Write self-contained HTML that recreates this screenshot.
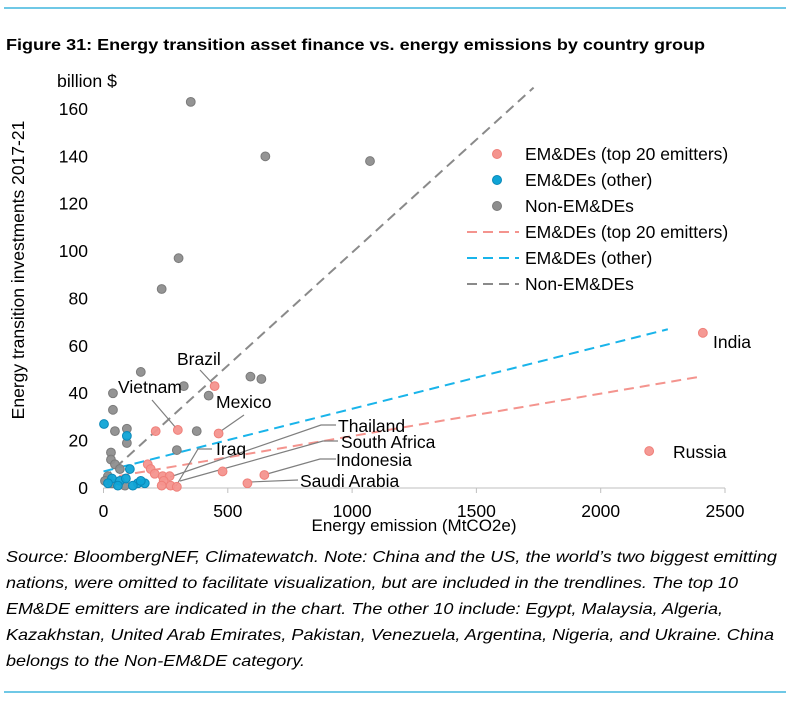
<!DOCTYPE html>
<html><head><meta charset="utf-8"><style>
body{margin:0;background:#fff;width:800px;height:708px;overflow:hidden}
svg{display:block;font-family:"Liberation Sans",sans-serif}
</style></head><body>
<svg width="800" height="708" viewBox="0 0 800 708">
<line x1="4" y1="8" x2="786" y2="8" stroke="#19a7d8" stroke-width="1.2"/>
<text x="6" y="50" font-size="16" font-weight="bold" textLength="699" lengthAdjust="spacingAndGlyphs">Figure 31: Energy transition asset finance vs. energy emissions by country group</text>
<text x="57" y="87" font-size="17.5" textLength="60" lengthAdjust="spacingAndGlyphs">billion  $</text>
<text transform="translate(24,270) rotate(-90)" text-anchor="middle" font-size="17.5">Energy transition investments 2017-21</text>
<text x="414" y="531" text-anchor="middle" font-size="17">Energy emission (MtCO2e)</text>
<g id="axes"></g>
<g id="lines"></g>
<g id="annots" stroke="#7f7f7f" stroke-width="1.2" fill="none"></g>
<g id="points"></g>
<g id="labels" font-size="17.5"></g>
<g id="legend" font-size="17.5">
<circle cx="497" cy="154" r="4.5" fill="#f4948e" stroke="#ef7f79"/>
<text x="525" y="160">EM&amp;DEs (top 20 emitters)</text>
<circle cx="497" cy="180" r="4.5" fill="#0fa4d6" stroke="#0a88b8"/>
<text x="525" y="186">EM&amp;DEs (other)</text>
<circle cx="497" cy="206" r="4.5" fill="#8e8e8e" stroke="#7a7a7a"/>
<text x="525" y="212">Non-EM&amp;DEs</text>
<line x1="467" y1="232" x2="519" y2="232" stroke="#f4948e" stroke-width="2" stroke-dasharray="10 6"/>
<text x="525" y="238">EM&amp;DEs (top 20 emitters)</text>
<line x1="467" y1="258" x2="519" y2="258" stroke="#19b4ea" stroke-width="2" stroke-dasharray="10 6"/>
<text x="525" y="264">EM&amp;DEs (other)</text>
<line x1="467" y1="284" x2="519" y2="284" stroke="#8a8a8a" stroke-width="2" stroke-dasharray="10 6"/>
<text x="525" y="290">Non-EM&amp;DEs</text>
</g>
<g font-size="16" font-style="italic">
<text x="6" y="562" textLength="771" lengthAdjust="spacingAndGlyphs">Source: BloombergNEF, Climatewatch. Note: China and the US, the world’s two biggest emitting</text>
<text x="6" y="588" textLength="732" lengthAdjust="spacingAndGlyphs">nations, were omitted to facilitate visualization, but are included in the trendlines. The top 10</text>
<text x="6" y="614" textLength="717" lengthAdjust="spacingAndGlyphs">EM&amp;DE emitters are indicated in the chart. The other 10 include: Egypt, Malaysia, Algeria,</text>
<text x="6" y="640" textLength="768" lengthAdjust="spacingAndGlyphs">Kazakhstan, United Arab Emirates, Pakistan, Venezuela, Argentina, Nigeria, and Ukraine. China</text>
<text x="6" y="666" textLength="299" lengthAdjust="spacingAndGlyphs">belongs to the Non-EM&amp;DE category.</text>
</g>
<line x1="4" y1="692" x2="786" y2="692" stroke="#19a7d8" stroke-width="1.2"/>
</svg>
<script>
const xTicks=[0,500,1000,1500,2000,2500];
const yTicks=[0,20,40,60,80,100,120,140,160];
const grayX=[351,651,1072,302,234,150,323,423,591,635,38,38,46,94,94,295,375,30,30,46,66,18,6,34,86];
const grayY=[163,140,138,97,84,49,43,39,47,46,40,33,24,25,19,16,24,15,12,10,8,5,3,2,1];
const blueX=[2,94,106,34,66,138,58,18,166,118,150,90];
const blueY=[27,22,8,4,3,2,1,2,2,1,3,4];
const redX=[2411,2195,447,299,463,210,178,190,206,238,266,242,270,295,234,647,579,479];
const redY=[65.5,15.6,43,24.5,23,24,10,8,6,5,5,3,1,0.5,1,5.5,2,7];
const trendNames=['trend-non','trend-other','trend-top20'];
const trendX0=[0,0,0];
const trendY0=[4,7,4];
const trendX1=[1730,2270,2400];
const trendY1=[169,67,47];
const x=v=>103.5+v*0.2486;
const y=v=>488-v*2.369;
const NS='http://www.w3.org/2000/svg';
function mk(tag,parent,attrs){const e=document.createElementNS(NS,tag);for(const k in attrs)e.setAttribute(k,attrs[k]);document.getElementById(parent).appendChild(e);return e;}
let a=mk('line','axes',{x1:x(0),y1:y(0),x2:x(2500),y2:y(0),stroke:'#bfbfbf','stroke-width':1});


xTicks.forEach(t=>{
 const l=mk('line','axes',{x1:x(t),y1:y(0),x2:x(t),y2:y(0)+5,stroke:'#bfbfbf'});
 
 
 const tx=mk('text','axes',{x:x(t),y:517,'text-anchor':'middle','font-size':17.5});
 tx.textContent=t;
 
 
});
yTicks.forEach(t=>{
 const tx=mk('text','axes',{x:88,y:y(t)+6,'text-anchor':'end','font-size':17.5});
 tx.textContent=t;
 
 
});
const tcol=['#8a8a8a','#19b4ea','#f4948e'];
trendX0.forEach((v,i)=>{
 const l=mk('line','lines',{x1:x(v),y1:y(trendY0[i]),x2:x(trendX1[i]),y2:y(trendY1[i]),stroke:tcol[i],'stroke-width':2,'stroke-dasharray':'10 6'});
 
 
});
const ann=[[[200,370],[213,384]],[[152,400],[176,428]],[[244,415],[221,431]],[[212,449],[198,449],[176,486]],[[336,425],[321,425],[170,477]],[[338,441],[323,441],[180,481]],[[336,459],[320,459],[267,474]],[[298,480],[250,482]]];
ann.forEach(p=>{
 const l=mk('polyline','annots',{points:p.map(q=>q.join(',')).join(' ')});
 
 
});
function pts(X,Y,fill,stroke,name){X.forEach((v,i)=>{
 const c=mk('circle','points',{cx:x(v),cy:y(Y[i]),r:4.4,fill:fill,stroke:stroke,'stroke-width':1,'fill-opacity':0.95});
 
 
});}
pts(grayX,grayY,'#8e8e8e','#7a7a7a','point-non-emde');
pts(blueX,blueY,'#0fa4d6','#0a88b8','point-emde-other');
pts(redX,redY,'#f4948e','#ef7f79','point-emde-top20');
const labs=[['India',713,348],['Russia',673,458],['Brazil',177,365],['Vietnam',118,393],['Mexico',216,408],['Iraq',216,455],['Thailand',338,432],['South Africa',341,448],['Indonesia',336,466],['Saudi Arabia',300,487]];
labs.forEach(l=>{
 const t=mk('text','labels',{x:l[1],y:l[2]});
 t.textContent=l[0];
 
 
});
</script>
</body></html>
